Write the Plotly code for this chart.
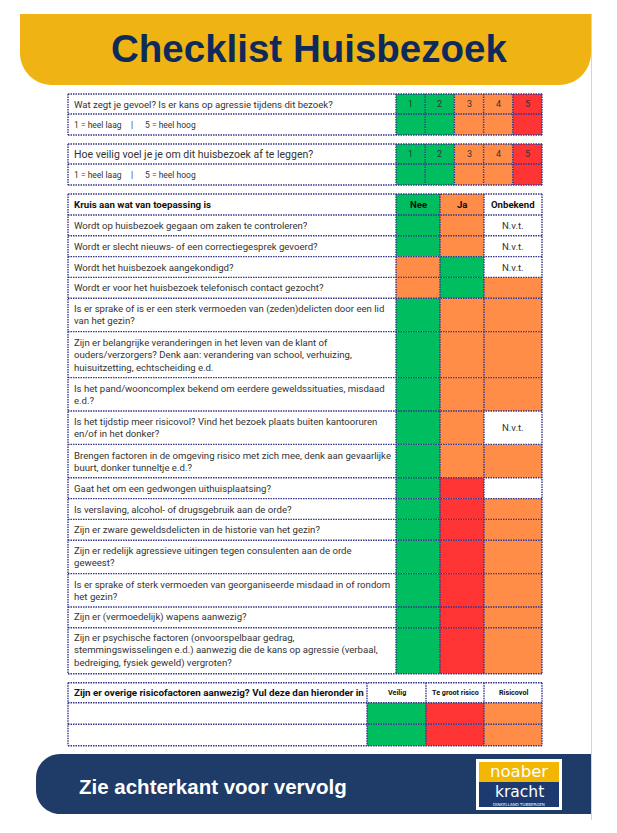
import plotly.graph_objects as go

W, H = 617, 833
OFF = 8  # default page margin of the html body; compensated through the axis ranges

# ---------------- data ----------------
title_text = "Checklist Huisbezoek"
footer_text = "Zie achterkant voor vervolg"
logo_top = "noaber"
logo_bottom = "kracht"
logo_sub = "DINKELLAND TUBBERGEN"

scale_questions = [
    "Wat zegt je gevoel? Is er kans op agressie tijdens dit bezoek?",
    "Hoe veilig voel je je om dit huisbezoek af te leggen?",
]
scale_labels = ["1", "2", "3", "4", "5"]
scale_levels = ["G", "G", "O", "O", "R"]
scale_note_low = "1 = heel laag"
scale_note_sep = "|"
scale_note_high = "5 = heel hoog"

check_header = "Kruis aan wat van toepassing is"
check_columns = ["Nee", "Ja", "Onbekend"]
check_header_levels = ["G", "O", "W"]
check_questions = [
    "Wordt op huisbezoek gegaan om zaken te controleren?",
    "Wordt er slecht nieuws- of een correctiegesprek gevoerd?",
    "Wordt het huisbezoek aangekondigd?",
    "Wordt er voor het huisbezoek telefonisch contact gezocht?",
    "Is er sprake of is er een sterk vermoeden van (zeden)delicten door een lid<br>van het gezin?",
    "Zijn er belangrijke veranderingen in het leven van de klant of<br>ouders/verzorgers? Denk aan: verandering van school, verhuizing,<br>huisuitzetting, echtscheiding e.d.",
    "Is het pand/wooncomplex bekend om eerdere geweldssituaties, misdaad<br>e.d.?",
    "Is het tijdstip meer risicovol? Vind het bezoek plaats buiten kantooruren<br>en/of in het donker?",
    "Brengen factoren in de omgeving risico met zich mee, denk aan gevaarlijke<br>buurt, donker tunneltje e.d.?",
    "Gaat het om een gedwongen uithuisplaatsing?",
    "Is verslaving, alcohol- of drugsgebruik aan de orde?",
    "Zijn er zware geweldsdelicten in de historie van het gezin?",
    "Zijn er redelijk agressieve uitingen tegen consulenten aan de orde<br>geweest?",
    "Is er sprake of sterk vermoeden van georganiseerde misdaad in of rondom<br>het gezin?",
    "Zijn er (vermoedelijk) wapens aanwezig?",
    "Zijn er psychische factoren (onvoorspelbaar gedrag,<br>stemmingswisselingen e.d.) aanwezig die de kans op agressie (verbaal,<br>bedreiging, fysiek geweld) vergroten?",
]
check_nee = ["G", "G", "O", "O", "G", "G", "G", "G", "G", "G", "G", "G", "G", "G", "G", "G"]
check_ja = ["O", "O", "G", "G", "O", "O", "O", "O", "O", "R", "R", "R", "R", "R", "R", "R"]
check_onbekend = ["N", "N", "N", "O", "O", "O", "O", "N", "O", "W", "O", "O", "O", "O", "O", "O"]
nvt_text = "N.v.t."

extra_header = "Zijn er overige risicofactoren aanwezig? Vul deze dan hieronder in"
extra_columns = ["Veilig", "Te groot risico", "Risicovol"]
extra_levels = ["G", "R", "O"]
extra_rows = ["", ""]

# ---------------- style ----------------
COL = {"G": "#00BE5F", "O": "#FF8D47", "R": "#FF3434", "W": "#FFFFFF", "N": "#FFFFFF"}
YELLOW = "#EFB413"
NAVY_TXT = "#0E2A5A"
FOOT = "#1F3C69"
DOT = "#35358C"
TXT = "#333333"
BODY_FONT = "Roboto, Liberation Sans, sans-serif"
HEAD_FONT = "Liberation Sans, Arial, sans-serif"

X_L, X_R = 68, 542
TXT_PAD = 4

shapes = []
annotations = []


def rect(x0, y0, x1, y1, fill):
    shapes.append(dict(type="rect", xref="x", yref="y", x0=x0, y0=y0, x1=x1, y1=y1,
                       fillcolor=fill, line=dict(width=0), layer="above"))


def dline(x0, y0, x1, y1):
    shapes.append(dict(type="line", xref="x", yref="y", x0=x0, y0=y0, x1=x1, y1=y1,
                       line=dict(color=DOT, width=1.4, dash="1.5px,1px"), layer="above"))


def text(x, y, s, size, anchor="left", bold=False, color=TXT, family=BODY_FONT):
    annotations.append(dict(x=x, y=y, xref="x", yref="y", text=s, showarrow=False,
                            xanchor=anchor, yanchor="middle", align="left",
                            font=dict(size=size, color=color, family=family,
                                      weight="bold" if bold else "normal")))


def rounded_path(x0, y0, x1, y1, rtl, rtr, rbr, rbl):
    k = 0.5523
    return (f"M {x0+rtl},{y0} L {x1-rtr},{y0} "
            f"C {x1-rtr+k*rtr},{y0} {x1},{y0+rtr-k*rtr} {x1},{y0+rtr} "
            f"L {x1},{y1-rbr} "
            f"C {x1},{y1-rbr+k*rbr} {x1-rbr+k*rbr},{y1} {x1-rbr},{y1} "
            f"L {x0+rbl},{y1} "
            f"C {x0+rbl-k*rbl},{y1} {x0},{y1-rbl+k*rbl} {x0},{y1-rbl} "
            f"L {x0},{y0+rtl} "
            f"C {x0},{y0+rtl-k*rtl} {x0+rtl-k*rtl},{y0} {x0+rtl},{y0} Z")


# ---------------- page decorations ----------------
shapes.append(dict(type="line", xref="x", yref="y", x0=591.5, x1=591.5, y0=14, y1=820,
                   line=dict(color="#D4D4D4", width=1), layer="below"))
shapes.append(dict(type="path", xref="x", yref="y", path=rounded_path(20, 14, 591, 85, 0, 0, 32, 32),
                   fillcolor=YELLOW, line=dict(width=0), layer="below"))
annotations.append(dict(x=309, y=48, xref="x", yref="y", text=title_text, showarrow=False,
                        xanchor="center", yanchor="middle",
                        font=dict(size=38.5, color=NAVY_TXT, family=HEAD_FONT, weight="bold")))

shapes.append(dict(type="path", xref="x", yref="y", path=rounded_path(36, 754, 591, 814, 24, 0, 0, 24),
                   fillcolor=FOOT, line=dict(width=0), layer="below"))
annotations.append(dict(x=77, y=786, xref="x", yref="y", text=footer_text, showarrow=False,
                        xanchor="left", yanchor="middle",
                        font=dict(size=20.5, color="white", family=HEAD_FONT, weight="bold")))
# logo
rect(476, 759, 562, 810, "white")
rect(479, 762, 559, 782, "#F2B705")
rect(479, 782, 559, 807, "#1D3A70")
annotations.append(dict(x=519, y=771, xref="x", yref="y", text=logo_top, showarrow=False,
                        xanchor="center", yanchor="middle",
                        font=dict(size=16.5, color="white", family="DejaVu Sans")))
annotations.append(dict(x=519, y=791.5, xref="x", yref="y", text=logo_bottom, showarrow=False,
                        xanchor="center", yanchor="middle",
                        font=dict(size=15.5, color="white", family="DejaVu Sans")))
annotations.append(dict(x=519, y=804.8, xref="x", yref="y", text=logo_sub, showarrow=False,
                        xanchor="center", yanchor="middle",
                        font=dict(size=4, color="white", family="DejaVu Sans")))

# ---------------- scale tables ----------------
SC_X = 396
sc_w = (X_R - SC_X) / len(scale_labels)
SC_ROW1, SC_ROW2 = 20, 21
sc_q_sizes = [9.6, 10.5]
sc_top = 94
for qi, q in enumerate(scale_questions):
    y0 = sc_top
    y1 = y0 + SC_ROW1
    y2 = y1 + SC_ROW2
    for i, (lab, lev) in enumerate(zip(scale_labels, scale_levels)):
        cx0 = SC_X + i * sc_w
        rect(cx0, y0, cx0 + sc_w, y2, COL[lev])
        text(cx0 + sc_w / 2, (y0 + y1) / 2, lab, 9, anchor="center")
    for yy in (y0, y1, y2):
        dline(X_L, yy, X_R, yy)
    for i in range(len(scale_labels) + 1):
        dline(SC_X + i * sc_w, y0, SC_X + i * sc_w, y2)
    dline(X_L, y0, X_L, y2)
    text(X_L + TXT_PAD, (y0 + y1) / 2, q, sc_q_sizes[qi])
    text(X_L + TXT_PAD, (y1 + y2) / 2, scale_note_low, 8.5)
    text(X_L + 61, (y1 + y2) / 2, scale_note_sep, 8.5)
    text(X_L + 75, (y1 + y2) / 2, scale_note_high, 8.5)
    sc_top = y2 + 9

# ---------------- checklist ----------------
CK_COLS = [396, 440, 484, X_R]
ck_top = sc_top  # 195
HDR_H = 21
rows_y = [ck_top, ck_top + HDR_H]
for q in check_questions:
    n = q.count("<br>") + 1
    rows_y.append(rows_y[-1] + 20.8 + 12.6 * (n - 1))

# header
for j, (name, lev) in enumerate(zip(check_columns, check_header_levels)):
    rect(CK_COLS[j], rows_y[0], CK_COLS[j + 1], rows_y[1], COL[lev])
    text((CK_COLS[j] + CK_COLS[j + 1]) / 2, (rows_y[0] + rows_y[1]) / 2, name, 9.6,
         anchor="center", bold=True, color="#111111")
text(X_L + TXT_PAD, (rows_y[0] + rows_y[1]) / 2, check_header, 9.7, bold=True, color="#111111")

for i, q in enumerate(check_questions):
    y0, y1 = rows_y[i + 1], rows_y[i + 2]
    for j, lev in enumerate((check_nee[i], check_ja[i], check_onbekend[i])):
        rect(CK_COLS[j], y0, CK_COLS[j + 1], y1, COL[lev])
        if lev == "N":
            text((CK_COLS[j] + CK_COLS[j + 1]) / 2, (y0 + y1) / 2, nvt_text, 9.6, anchor="center")
    text(X_L + TXT_PAD, (y0 + y1) / 2, q, 9.6)

for yy in rows_y:
    dline(X_L, yy, X_R, yy)
for xx in [X_L] + CK_COLS:
    dline(xx, rows_y[0], xx, rows_y[-1])

# ---------------- extra risk table ----------------
EX_COLS = [367, 426, 484, X_R]
ex_y = [rows_y[-1] + 9]
ex_y.append(ex_y[0] + 20)
for _ in extra_rows:
    ex_y.append(ex_y[-1] + 21.5)

text(X_L + TXT_PAD, (ex_y[0] + ex_y[1]) / 2, extra_header, 9.8, bold=True, color="#111111")
for j, name in enumerate(extra_columns):
    text((EX_COLS[j] + EX_COLS[j + 1]) / 2, (ex_y[0] + ex_y[1]) / 2, name, 7.2,
         anchor="center", bold=True, color="#111111")
for r, label in enumerate(extra_rows):
    y0, y1 = ex_y[r + 1], ex_y[r + 2]
    for j, lev in enumerate(extra_levels):
        rect(EX_COLS[j], y0, EX_COLS[j + 1], y1, COL[lev])
    if label:
        text(X_L + TXT_PAD, (y0 + y1) / 2, label, 9.6)
for yy in ex_y:
    dline(X_L, yy, X_R, yy)
for xx in [X_L] + EX_COLS:
    dline(xx, ex_y[0], xx, ex_y[-1])

fig = go.Figure()
fig.add_trace(go.Scatter(x=[OFF, W], y=[OFF, H], mode="markers", marker=dict(opacity=0),
                         hoverinfo="skip", showlegend=False))
fig.update_layout(
    width=W - OFF, height=H - OFF, margin=dict(l=0, r=0, t=0, b=0),
    paper_bgcolor="white", plot_bgcolor="white",
    xaxis=dict(range=[OFF, W], visible=False, fixedrange=True),
    yaxis=dict(range=[H, OFF], visible=False, fixedrange=True),
    shapes=shapes, annotations=annotations, showlegend=False,
)
fig.write_html("out.html")
